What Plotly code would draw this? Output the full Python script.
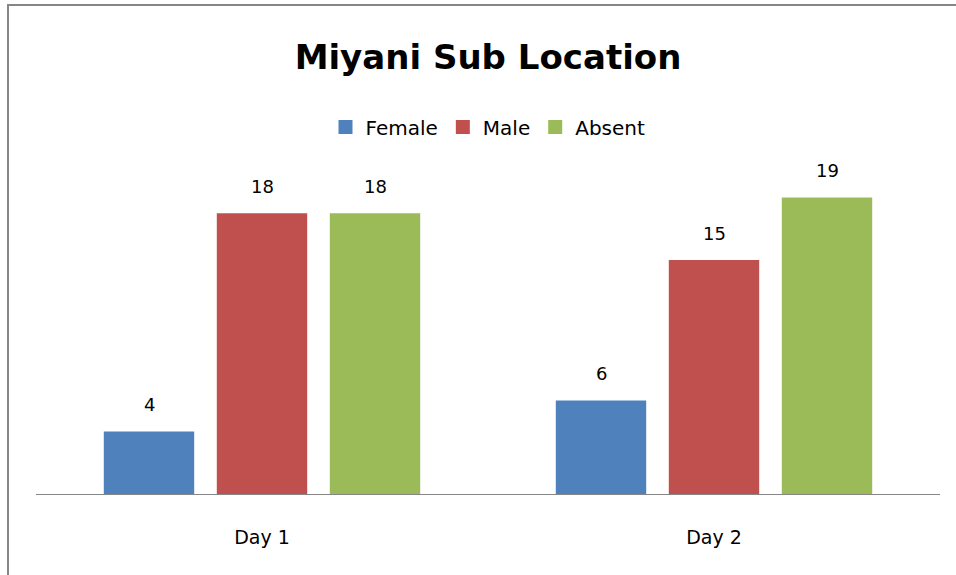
import plotly.graph_objects as go

categories = ["Day 1", "Day 2"]
series_names = ["Female", "Male", "Absent"]
female = [4, 6]
male = [18, 15]
absent = [18, 19]
colors = ["#4F81BD", "#C0504D", "#9BBB59"]

FONT = "DejaVu Sans, Verdana, sans-serif"
W, H = 956, 575
ML, MR, MT, MB = 36, 16, 182, 81
PW = W - ML - MR
PH = H - MT - MB

fig = go.Figure()
values = [female, male, absent]
for name, vals, col in zip(series_names, values, colors):
    fig.add_trace(go.Bar(name=name, x=categories, y=vals, marker_color=col,
                         marker_line_width=0, showlegend=False))
# legend entries with square swatches
for name, col in zip(series_names, colors):
    fig.add_trace(go.Scatter(name=name, x=[None], y=[None], mode="markers",
                             marker=dict(symbol="square", size=14, color=col),
                             showlegend=True))

# value labels above bars
offsets = [-0.25, 0.0, 0.25]
for vals, off in zip(values, offsets):
    for i, v in enumerate(vals):
        fig.add_annotation(x=i + off, y=v, text=str(v), showarrow=False,
                           yshift=27, xref="x", yref="y",
                           font=dict(family=FONT, size=18, color="#000000"))

# partial border (top and left)
def px_x(p):
    return (p - ML) / PW
def px_y(p):
    return (H - MB - p) / PH

fig.add_shape(type="line", xref="paper", yref="paper",
              x0=px_x(7), x1=px_x(960), y0=px_y(5), y1=px_y(5),
              line=dict(color="#868686", width=2))
fig.add_shape(type="line", xref="paper", yref="paper",
              x0=px_x(8), x1=px_x(8), y0=px_y(4), y1=px_y(580),
              line=dict(color="#868686", width=2))

fig.update_layout(
    width=W, height=H,
    margin=dict(l=ML, r=MR, t=MT, b=MB),
    paper_bgcolor="white", plot_bgcolor="white",
    barmode="group", bargap=0.25, bargroupgap=0.2,
    title=dict(text="<b>Miyani Sub Location</b>", x=0.5, xanchor="center", xref="paper",
               y=1 - 57 / H, yanchor="middle", yref="container",
               font=dict(family=FONT, size=34, color="#000000")),
    legend=dict(orientation="h", x=0.5, xanchor="center", y=px_y(127), yanchor="middle",
                font=dict(family=FONT, size=20, color="#000000"),
                traceorder="normal", bgcolor="rgba(0,0,0,0)"),
    showlegend=True,
    xaxis=dict(showline=True, linecolor="#868686", linewidth=1, showgrid=False,
               ticks="", tickfont=dict(family=FONT, size=19, color="#000000"),
               ticklabelstandoff=26, zeroline=False),
    yaxis=dict(range=[0, 20], visible=False, showgrid=False, zeroline=False),
)

fig.write_html("out.html", config={"displayModeBar": False},
               post_script="document.body.style.margin='0';")
